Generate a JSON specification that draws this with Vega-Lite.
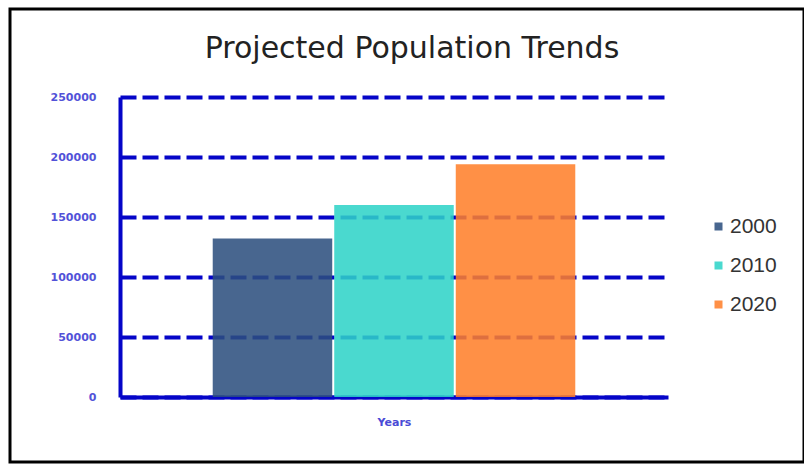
{
  "$schema": "https://vega.github.io/schema/vega-lite/v6.json",
  "width": 794,
  "height": 453,
  "autosize": {"type": "none"},
  "padding": {"left": 10, "top": 9, "right": 0, "bottom": 2},
  "background": "white",
  "title": {
    "text": "Projected Population Trends",
    "font": "DejaVu Sans",
    "fontSize": 30,
    "fontWeight": "normal",
    "color": "#222222",
    "anchor": "middle",
    "offset": -55,
    "dx": 5
  },
  "data": {
    "values": [
      {"year": "2000", "population": 132000},
      {"year": "2010", "population": 160000},
      {"year": "2020", "population": 194000}
    ]
  },
  "mark": {"type": "bar", "opacity": 0.87},
  "encoding": {
    "x": {
      "field": "year",
      "type": "nominal",
      "scale": {"range": [110, 658], "paddingInner": 0.0165, "paddingOuter": 0.763},
      "axis": {
        "orient": "bottom",
        "offset": -65,
        "labels": false,
        "ticks": false,
        "grid": false,
        "domainColor": "#0505c8",
        "domainWidth": 4,
        "title": "Years",
        "titleFont": "DejaVu Sans",
        "titleFontSize": 11,
        "titleFontWeight": "bold",
        "titleColor": "#4a4ad6",
        "titlePadding": 19
      }
    },
    "y": {
      "field": "population",
      "type": "quantitative",
      "scale": {"domain": [0, 250000], "range": [388, 88], "nice": false},
      "axis": {
        "orient": "left",
        "offset": -110,
        "values": [0, 50000, 100000, 150000, 200000, 250000],
        "format": "d",
        "ticks": false,
        "domainColor": "#0505c8",
        "domainWidth": 4,
        "labelFont": "DejaVu Sans",
        "labelFontSize": 11,
        "labelFontWeight": "bold",
        "labelColor": "#5252d8",
        "labelPadding": 24,
        "grid": true,
        "gridColor": "#0505c8",
        "gridWidth": 4,
        "gridDash": [16, 6],
        "title": null
      }
    },
    "color": {
      "field": "year",
      "type": "nominal",
      "scale": {"domain": ["2000", "2010", "2020"], "range": ["#2d4f7e", "#2fd3c8", "#ff7f2a"]},
      "legend": {
        "title": null,
        "orient": "none",
        "legendX": 698,
        "legendY": 207,
        "padding": 0,
        "symbolType": "square",
        "symbolSize": 64,
        "symbolStrokeWidth": 0,
        "labelFont": "Liberation Sans",
        "labelFontSize": 21,
        "labelColor": "#333333",
        "labelOffset": 1,
        "rowPadding": 17
      }
    }
  },
  "config": {"view": {"stroke": "black", "strokeWidth": 3}}
}
